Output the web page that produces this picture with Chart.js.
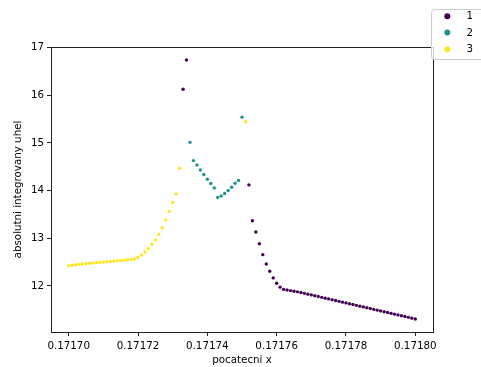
<!DOCTYPE html>
<html>
<head>
<meta charset="utf-8">
<script src="https://cdn.jsdelivr.net/npm/chart.js@4"></script>
<style>
  html, body { margin: 0; padding: 0; background: #fff; }
  canvas { display: block; }
</style>
</head>
<body>
<canvas id="c" width="481" height="367"></canvas>
<script>
// Axis ticks
const xTicks = [0.17170, 0.17172, 0.17174, 0.17176, 0.17178, 0.17180];
const yTicks = [12, 13, 14, 15, 16, 17];

// Class labels and viridis colours
const classLabels = ['1', '2', '3'];
const classColors = ['#440154', '#21918c', '#fde725'];

// Class 1
const class1X = [
  0.171733, 0.171734,
  0.171752, 0.171753, 0.171754, 0.171755, 0.171756, 0.171757, 0.171758, 0.171759,
  0.171760, 0.171761, 0.171762, 0.171763, 0.171764, 0.171765, 0.171766, 0.171767,
  0.171768, 0.171769, 0.171770, 0.171771, 0.171772, 0.171773, 0.171774, 0.171775,
  0.171776, 0.171777, 0.171778, 0.171779, 0.171780, 0.171781, 0.171782, 0.171783,
  0.171784, 0.171785, 0.171786, 0.171787, 0.171788, 0.171789, 0.171790, 0.171791,
  0.171792, 0.171793, 0.171794, 0.171795, 0.171796, 0.171797, 0.171798, 0.171799,
  0.171800
];
const class1Y = [
  16.128, 16.743,
  14.120, 13.366, 13.130, 12.885, 12.655, 12.460, 12.308, 12.167,
  12.056, 11.973, 11.925, 11.913, 11.900, 11.887, 11.874, 11.860,
  11.843, 11.826, 11.810, 11.793, 11.776, 11.759, 11.742, 11.726,
  11.709, 11.692, 11.675, 11.658, 11.642, 11.625, 11.608, 11.591,
  11.574, 11.558, 11.541, 11.524, 11.507, 11.490, 11.474, 11.457,
  11.440, 11.423, 11.406, 11.390, 11.373, 11.356, 11.339, 11.322,
  11.305
];

// Class 2
const class2X = [
  0.171735, 0.171736, 0.171737, 0.171738, 0.171739, 0.171740, 0.171741, 0.171742,
  0.171743, 0.171744, 0.171745, 0.171746, 0.171747, 0.171748, 0.171749, 0.171750
];
const class2Y = [
  15.013, 14.630, 14.538, 14.433, 14.337, 14.238, 14.148, 14.056,
  13.856, 13.889, 13.939, 14.002, 14.071, 14.155, 14.211, 15.542
];

// Class 3
const class3X = [
  0.171700, 0.171701, 0.171702, 0.171703, 0.171704, 0.171705, 0.171706, 0.171707,
  0.171708, 0.171709, 0.171710, 0.171711, 0.171712, 0.171713, 0.171714, 0.171715,
  0.171716, 0.171717, 0.171718, 0.171719, 0.171720, 0.171721, 0.171722, 0.171723,
  0.171724, 0.171725, 0.171726, 0.171727, 0.171728, 0.171729, 0.171730, 0.171731,
  0.171732, 0.171751
];
const class3Y = [
  12.425, 12.435, 12.443, 12.451, 12.458, 12.465, 12.472, 12.479,
  12.486, 12.492, 12.499, 12.505, 12.512, 12.518, 12.525, 12.532,
  12.540, 12.548, 12.556, 12.562, 12.600, 12.649, 12.711, 12.780,
  12.872, 12.962, 13.082, 13.220, 13.381, 13.563, 13.751, 13.931,
  14.469, 15.445
];

const FONT = 'DejaVu Sans';
const FS = 10.3;

function pts(xs, ys) { return xs.map((x, i) => ({ x: x, y: ys[i] })); }

const groups = [[class1X, class1Y], [class2X, class2Y], [class3X, class3Y]];
const datasets = groups.map((g, k) => ({
  label: classLabels[k],
  data: pts(g[0], g[1]),
  backgroundColor: classColors[k],
  borderWidth: 0,
  pointRadius: 1.7,
  pointHoverRadius: 1.7
}));

// Four spines plus a boxed legend in the upper-right corner
const frameAndLegend = {
  id: 'frameAndLegend',
  afterDraw(chart) {
    const { ctx, chartArea: a } = chart;
    ctx.save();
    ctx.strokeStyle = '#222';
    ctx.lineWidth = 1;
    ctx.strokeRect(Math.round(a.left) + 0.5, Math.round(a.top) + 0.5,
                   Math.round(a.right - a.left), Math.round(a.bottom - a.top));

    // legend box
    const bx = 431.5, by = 9.5, bw = 60, bh = 50, r = 3;
    ctx.beginPath();
    ctx.moveTo(bx + r, by);
    ctx.lineTo(bx + bw, by);
    ctx.lineTo(bx + bw, by + bh);
    ctx.lineTo(bx + r, by + bh);
    ctx.arcTo(bx, by + bh, bx, by + bh - r, r);
    ctx.lineTo(bx, by + r);
    ctx.arcTo(bx, by, bx + r, by, r);
    ctx.closePath();
    ctx.fillStyle = 'rgba(255,255,255,0.8)';
    ctx.fill();
    ctx.strokeStyle = '#cccccc';
    ctx.stroke();

    ctx.font = FS + 'px "' + FONT + '"';
    ctx.textBaseline = 'middle';
    ctx.textAlign = 'left';
    const rows = [16.2, 32.6, 49.2];
    classLabels.forEach((lab, k) => {
      ctx.beginPath();
      ctx.arc(447.3, rows[k], 3, 0, Math.PI * 2);
      ctx.fillStyle = classColors[k];
      ctx.fill();
      ctx.fillStyle = '#000';
      ctx.fillText(lab, 466.5, rows[k] + 0.5);
    });
    ctx.restore();
  }
};

new Chart(document.getElementById('c'), {
  type: 'scatter',
  data: { datasets: datasets },
  options: {
    responsive: false,
    animation: false,
    devicePixelRatio: 1,
    layout: { padding: { top: 47, right: 48, left: 0, bottom: 0 } },
    plugins: { legend: { display: false }, tooltip: { enabled: false } },
    scales: {
      x: {
        type: 'linear',
        min: 0.1716949,
        max: 0.1718051,
        border: { display: false },
        grid: { drawOnChartArea: false, drawTicks: true, tickLength: 4, color: '#222' },
        afterBuildTicks: s => { s.ticks = xTicks.map(v => ({ value: v })); },
        afterFit: s => { s.height = 35; },
        ticks: {
          autoSkip: false, maxRotation: 0, padding: 4,
          color: '#000', font: { family: FONT, size: FS },
          callback: v => Number(v).toFixed(5)
        },
        title: {
          display: true, text: 'pocatecni x', color: '#000',
          font: { family: FONT, size: FS },
          padding: { top: 0, bottom: 0 }
        }
      },
      y: {
        type: 'linear',
        min: 11.031,
        max: 17.015,
        border: { display: false },
        grid: { drawOnChartArea: false, drawTicks: true, tickLength: 4, color: '#222' },
        afterBuildTicks: s => { s.ticks = yTicks.map(v => ({ value: v })); },
        afterFit: s => { s.width = 51; },
        ticks: {
          autoSkip: false, padding: 3,
          color: '#000', font: { family: FONT, size: FS },
          callback: v => String(v)
        },
        title: {
          display: true, text: 'absolutni integrovany uhel', color: '#000',
          font: { family: FONT, size: FS },
          padding: { top: 12, bottom: 0 }
        }
      }
    }
  },
  plugins: [frameAndLegend]
});
</script>
</body>
</html>
